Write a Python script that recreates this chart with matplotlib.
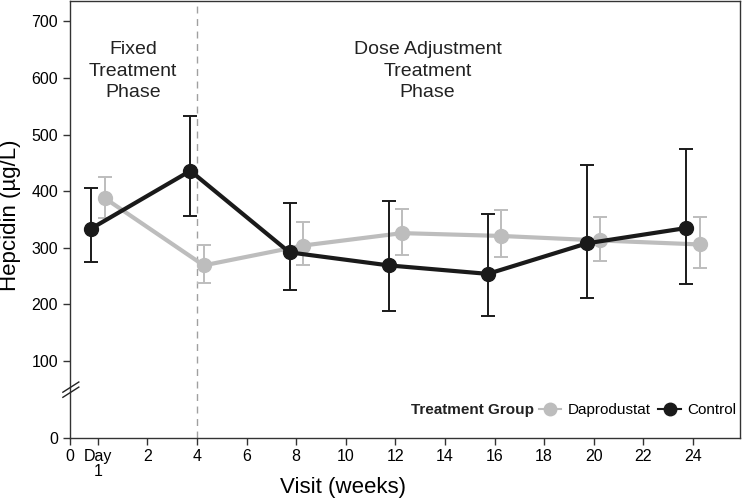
import matplotlib

matplotlib.use("Agg")
import matplotlib.pyplot as plt
from matplotlib.lines import Line2D
import matplotlib.transforms as mtransforms

plt.rcParams["font.family"] = ["Liberation Sans", "DejaVu Sans"]

# Visit (weeks), Day 1 is placed at 0
weeks = [0, 4, 8, 12, 16, 20, 24]

# Hepcidin means and error bar limits (ug/L)
dapro_mean = [388, 269, 304, 326, 321, 313, 306]
dapro_low = [352, 238, 269, 287, 283, 277, 265]
dapro_high = [426, 305, 345, 369, 366, 355, 354]

control_mean = [334, 436, 292, 269, 254, 308, 335]
control_low = [275, 357, 225, 189, 180, 212, 236]
control_high = [406, 533, 380, 382, 360, 447, 474]

x_ticks = [-1.13, 0, 2, 4, 6, 8, 10, 12, 14, 16, 18, 20, 22, 24]
x_labels = ["0", "Day\n1", "2", "4", "6", "8", "10", "12", "14", "16", "18", "20", "22", "24"]
y_ticks = [-35, 100, 200, 300, 400, 500, 600, 700]
y_labels = ["0", "100", "200", "300", "400", "500", "600", "700"]

GREY = "#bdbdbd"
BLACK = "#1a1a1a"
DODGE = 0.27

fig = plt.figure(figsize=(7.43, 5.0), dpi=100)
ax = fig.add_axes([0.094, 0.125, 0.902, 0.873])


def draw_series(offset, mean, low, high, color, zorder):
    xs = [w + offset for w in weeks]
    yerr = [[m - lo for m, lo in zip(mean, low)], [hi - m for m, hi in zip(mean, high)]]
    ax.errorbar(
        xs,
        mean,
        yerr=yerr,
        fmt="none",
        ecolor=color,
        elinewidth=1.4,
        capsize=5,
        capthick=1.4,
        zorder=zorder,
    )
    ax.plot(xs, mean, color=color, linewidth=3, marker="o", markersize=10,
            zorder=zorder + 1)


draw_series(DODGE, dapro_mean, dapro_low, dapro_high, GREY, 2)
draw_series(-DODGE, control_mean, control_low, control_high, BLACK, 4)

# phase divider
ax.axvline(4, color="#a0a0a0", linestyle=(0, (5, 4)), linewidth=1, zorder=1)

ax.text(1.41, 612, "Fixed\nTreatment\nPhase", ha="center", va="center",
        fontsize=14, linespacing=1.35, color="#222222")
ax.text(13.3, 612, "Dose Adjustment\nTreatment\nPhase", ha="center", va="center",
        fontsize=14, linespacing=1.35, color="#222222")

ax.set_xlim(-1.13, 25.9)
ax.set_ylim(-35, 736)
ax.set_xticks(x_ticks)
ax.set_xticklabels(x_labels, fontsize=11.5, linespacing=1.0)
ax.set_yticks(y_ticks)
ax.set_yticklabels(y_labels, fontsize=11.5)
ax.tick_params(direction="out", length=5, width=1, color="#333333")
ax.tick_params(axis="x", pad=3)
for sp in ax.spines.values():
    sp.set_color("#333333")
    sp.set_linewidth(1)

ax.set_xlabel("Visit (weeks)", fontsize=16, va="center")
ax.xaxis.set_label_coords(0.407, -0.115)
ax.set_ylabel("Hepcidin (\u00b5g/L)", fontsize=16)
ax.yaxis.set_label_coords(-0.073, 0.509)

# axis break marks
trans = mtransforms.blended_transform_factory(ax.transAxes, ax.transData)
for y0, y1 in [(45, 63), (36, 54)]:
    ax.plot([-0.0104, 0.0134], [y0, y1], color="#222222", linewidth=1,
            transform=trans, clip_on=False, zorder=6)

# legend
ax.text(0.692, 0.063, "Treatment Group", transform=ax.transAxes, ha="right",
        va="center", fontsize=11, fontweight="bold", color="#222222")
handles = [
    Line2D([], [], color=GREY, marker="o", markersize=9, linewidth=1.5),
    Line2D([], [], color=BLACK, marker="o", markersize=9, linewidth=1.5),
]
ax.legend(handles, ["Daprodustat", "Control"], ncol=2, frameon=False,
          loc="center left", bbox_to_anchor=(0.688, 0.063), fontsize=11,
          handlelength=1.5, handletextpad=0.4, columnspacing=0.5, borderpad=0)

fig.savefig("out.png", dpi=100)
